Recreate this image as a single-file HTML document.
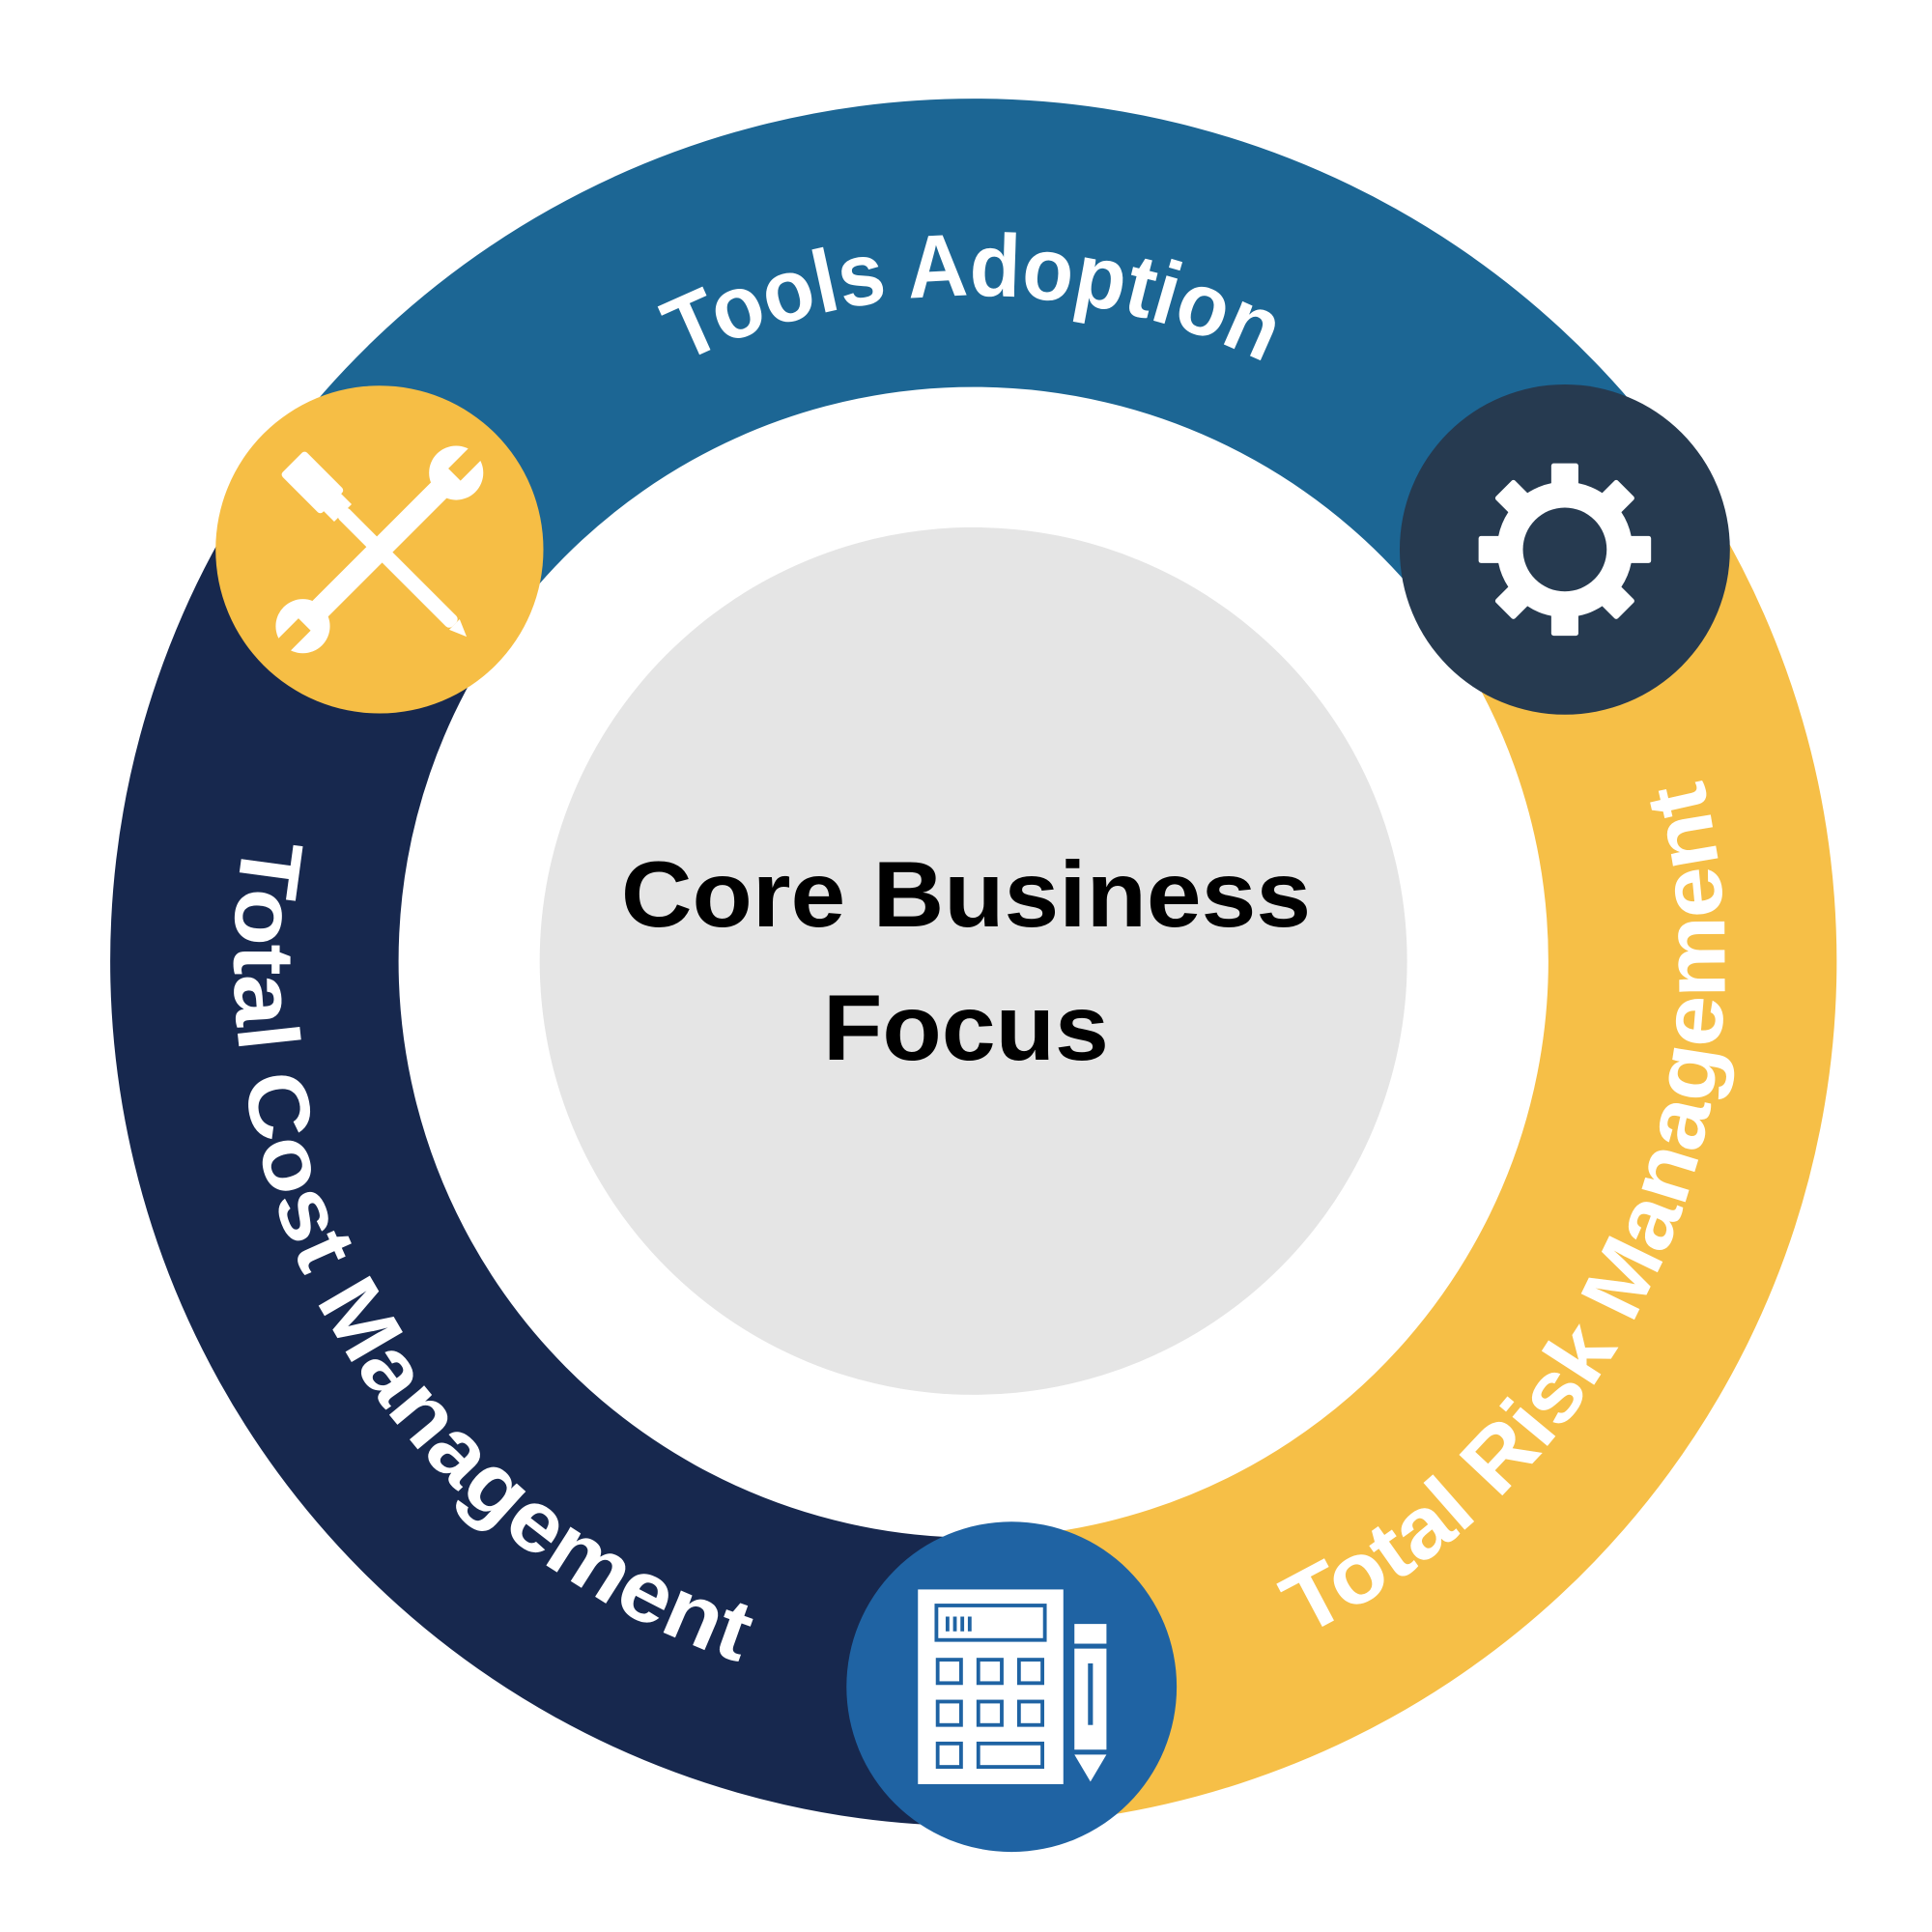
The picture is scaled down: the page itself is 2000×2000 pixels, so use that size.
<!DOCTYPE html>
<html><head><meta charset="utf-8"><style>
html,body{margin:0;padding:0;background:#fff}
svg{display:block}
text{font-family:"Liberation Sans",sans-serif;font-weight:bold}
</style></head><body>
<svg width="2000" height="2000" viewBox="0 0 1568 1568" xmlns="http://www.w3.org/2000/svg">
<defs>
<path id="pTools" d="M 790 1320 A 540 540 0 0 1 790 240 A 540 540 0 0 1 790 1320"/>
<path id="pCost" d="M 790 180 A 600 600 0 0 0 790 1380 A 600 600 0 0 0 790 180"/>
<path id="pRisk" d="M 790 1390 A 610 610 0 0 0 790 170 A 610 610 0 0 0 790 1390"/>
</defs>
<g fill="none" stroke-width="234">
<path stroke="#1C6694" d="M 310.1 447.5 A 585 585 0 0 1 1269.9 447.5"/>
<path stroke="#F6BF47" d="M 1269.9 447.5 A 585 585 0 0 1 820.6 1364.2"/>
<path stroke="#17284E" d="M 820.6 1364.2 A 585 585 0 0 1 310.1 447.5"/>
</g>
<circle cx="790" cy="780" r="352" fill="#E5E5E5"/>
<text x="784" y="752" font-size="76" text-anchor="middle" fill="#000" textLength="560" lengthAdjust="spacingAndGlyphs">Core Business</text>
<text x="784" y="860" font-size="76" text-anchor="middle" fill="#000" textLength="232" lengthAdjust="spacingAndGlyphs">Focus</text>
<text font-size="72" fill="#fff"><textPath href="#pTools" startOffset="50%" text-anchor="middle" textLength="490" lengthAdjust="spacingAndGlyphs">Tools Adoption</textPath></text>
<text font-size="70" fill="#fff"><textPath href="#pCost" startOffset="33.6%" text-anchor="middle" textLength="850" lengthAdjust="spacingAndGlyphs">Total Cost Management</textPath></text>
<text font-size="70" fill="#fff"><textPath href="#pRisk" startOffset="18.06%" text-anchor="middle" textLength="830" lengthAdjust="spacingAndGlyphs">Total Risk Management</textPath></text>
<circle cx="308" cy="446" r="133" fill="#F6BE45"/>
<g fill="#fff">
 <g transform="translate(308,446) rotate(45)">
  <rect x="-100" y="-14" width="46" height="28" rx="3"/>
  <rect x="-56" y="-10" width="14" height="20"/>
  <rect x="-44" y="-6" width="130" height="12" rx="4"/>
  <path d="M86 -6 L100 0 L86 6 Z"/>
 </g>
 <g transform="translate(308,446) rotate(-45)">
  <rect x="-80" y="-9" width="160" height="18" rx="4"/>
  <circle cx="-88" cy="0" r="22"/>
  <circle cx="88" cy="0" r="22"/>
 </g>
 <g fill="#F6BE45" transform="translate(308,446) rotate(-45)">
  <rect x="-112" y="-7" width="26" height="14"/>
  <rect x="86" y="-7" width="26" height="14"/>
 </g>
</g>
<circle cx="1270" cy="446" r="134" fill="#263A50"/>
<g fill="#fff" transform="translate(1270,446)">
 <circle r="55"/>
 <g>
  <rect x="-11" y="-70" width="22" height="24" rx="2"/>
  <rect x="-11" y="-70" width="22" height="24" rx="2" transform="rotate(45)"/>
  <rect x="-11" y="-70" width="22" height="24" rx="2" transform="rotate(90)"/>
  <rect x="-11" y="-70" width="22" height="24" rx="2" transform="rotate(135)"/>
  <rect x="-11" y="-70" width="22" height="24" rx="2" transform="rotate(180)"/>
  <rect x="-11" y="-70" width="22" height="24" rx="2" transform="rotate(225)"/>
  <rect x="-11" y="-70" width="22" height="24" rx="2" transform="rotate(270)"/>
  <rect x="-11" y="-70" width="22" height="24" rx="2" transform="rotate(315)"/>
 </g>
 <circle r="34" fill="#263A50"/>
</g>
<circle cx="821" cy="1369" r="134" fill="#1F63A3"/>
<rect x="745" y="1290" width="118" height="158" fill="#fff"/>
<g fill="none" stroke="#1F63A3" stroke-width="3">
 <rect x="760" y="1303" width="88" height="28"/>
 <rect x="761" y="1347" width="19" height="19"/><rect x="794" y="1347" width="19" height="19"/><rect x="827" y="1347" width="19" height="19"/>
 <rect x="761" y="1381" width="19" height="19"/><rect x="794" y="1381" width="19" height="19"/><rect x="827" y="1381" width="19" height="19"/>
 <rect x="761" y="1415" width="19" height="19"/><rect x="794" y="1415" width="52" height="19"/>
 <path d="M769 1312v12M775 1312v12M781 1312v12M787 1312v12"/>
</g>
<rect x="872" y="1318" width="26" height="16" fill="#fff"/>
<rect x="872" y="1338" width="26" height="82" fill="#fff"/>
<path d="M872 1424 L898 1424 L885 1446 Z" fill="#fff"/>
<rect x="883" y="1350" width="4" height="50" fill="#1F63A3"/>
</svg>
</body></html>
